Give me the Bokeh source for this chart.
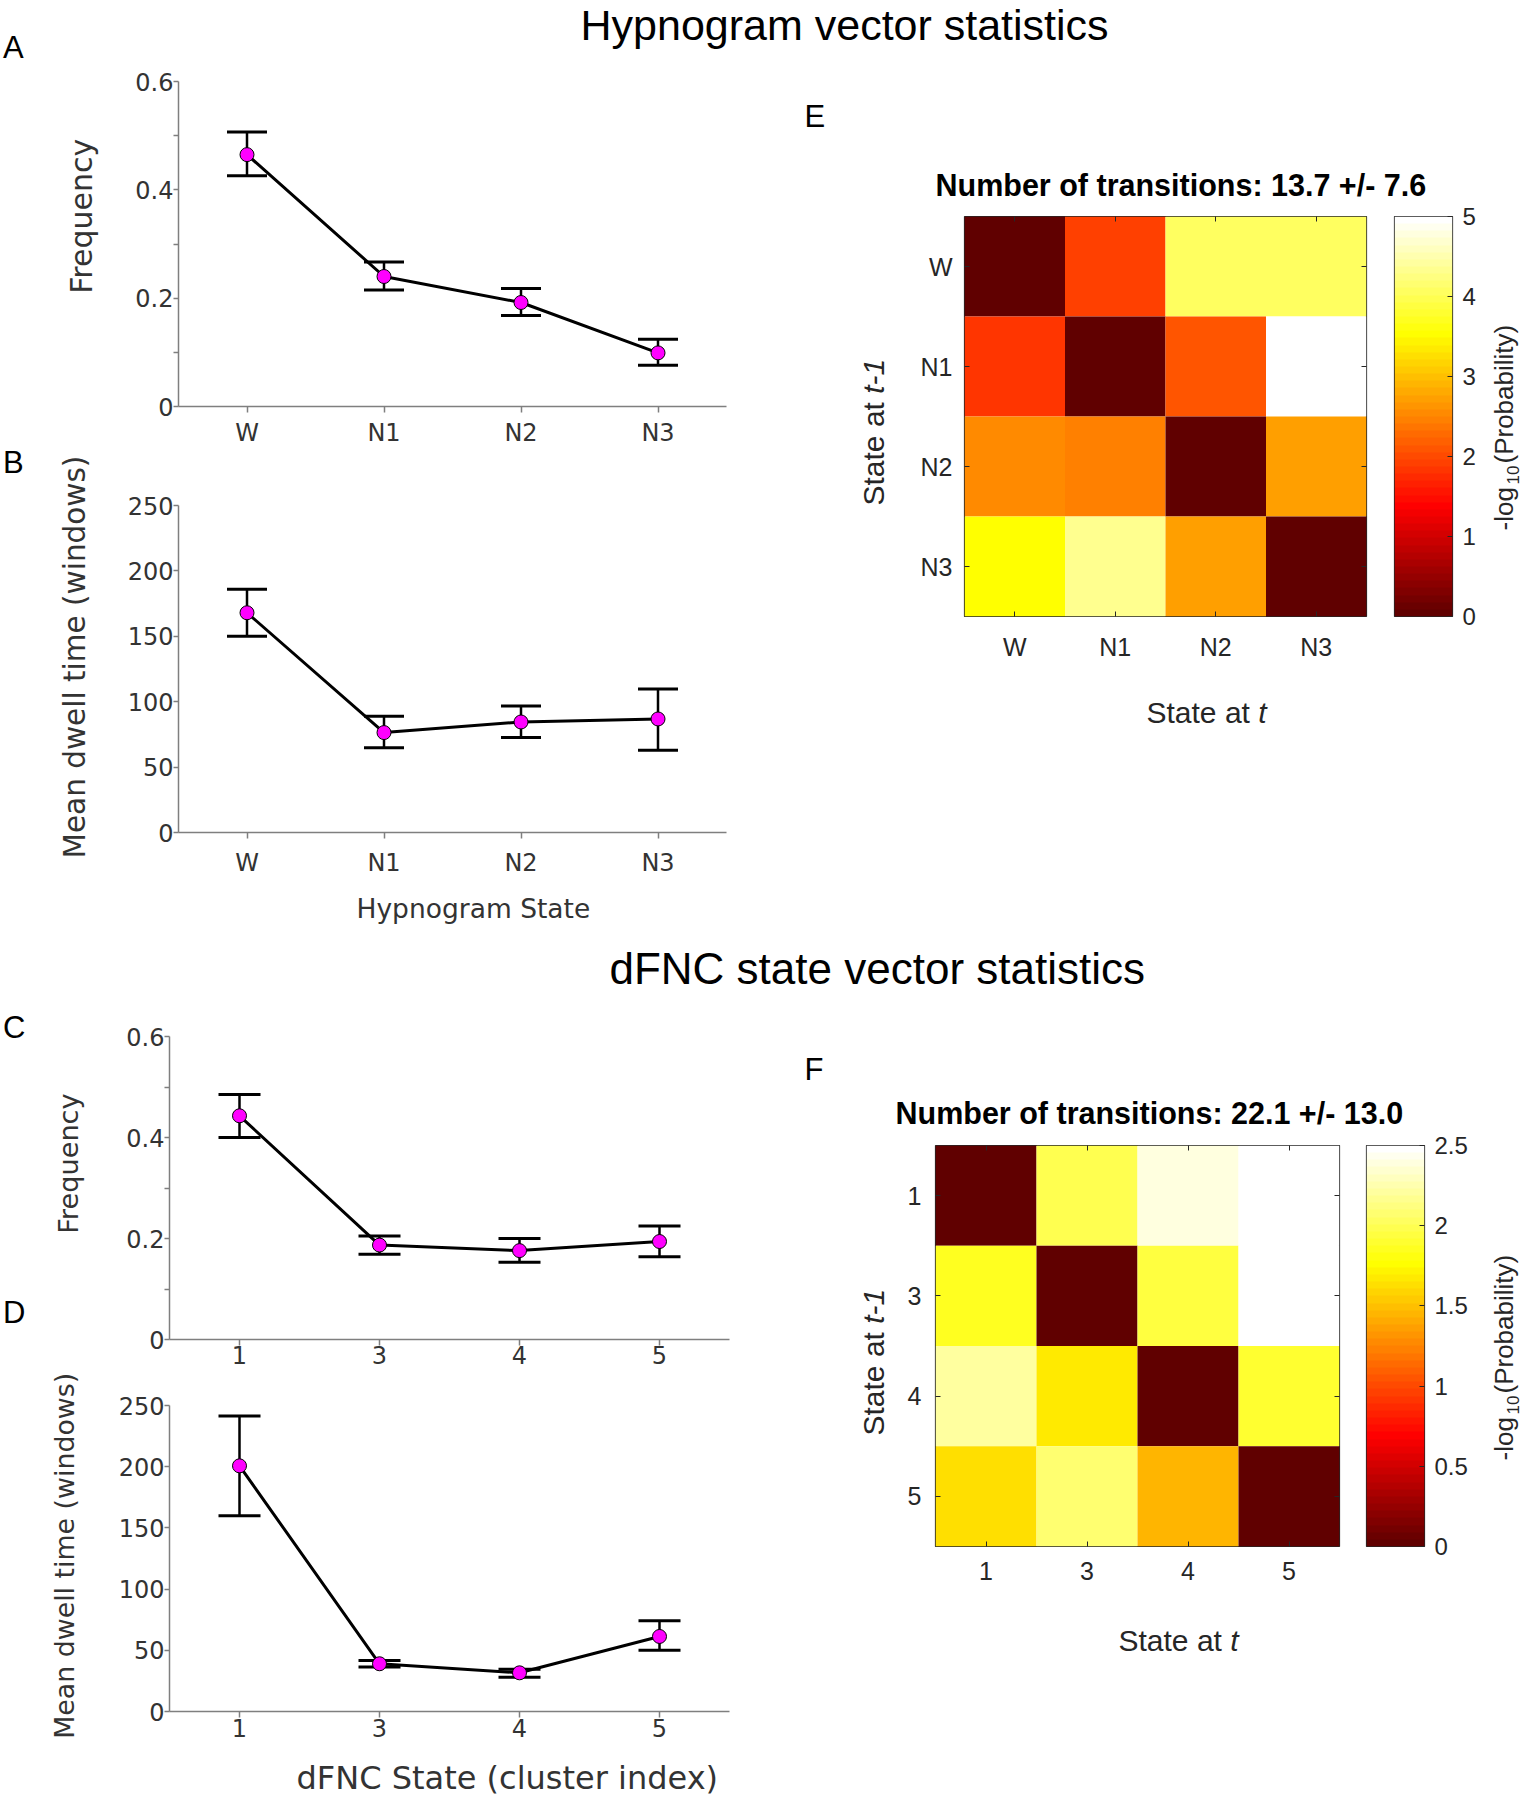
import math
import numpy as np
from bokeh.plotting import figure
from bokeh.models import (Range1d, FixedTicker, Label, Whisker, TeeHead,
                          ColumnDataSource, LinearAxis, LinearColorMapper)
from bokeh.layouts import row, column
from bokeh.transform import linear_cmap
from bokeh.embed import file_html
from bokeh.resources import INLINE

# ---------------------------------------------------------------- data
hyp_states = ["W", "N1", "N2", "N3"]
hyp_freq = [0.465, 0.240, 0.192, 0.099]
hyp_freq_lo = [0.426, 0.215, 0.168, 0.076]
hyp_freq_hi = [0.507, 0.267, 0.218, 0.124]
hyp_dwell = [168.0, 76.4, 84.5, 86.8]
hyp_dwell_lo = [150.0, 64.7, 72.6, 62.9]
hyp_dwell_hi = [186.0, 88.8, 96.7, 109.7]

dfnc_states = ["1", "3", "4", "5"]
dfnc_freq = [0.443, 0.187, 0.176, 0.194]
dfnc_freq_lo = [0.400, 0.169, 0.153, 0.164]
dfnc_freq_hi = [0.485, 0.205, 0.200, 0.225]
dfnc_dwell = [200.7, 39.0, 31.6, 61.3]
dfnc_dwell_lo = [160.0, 36.3, 28.0, 50.0]
dfnc_dwell_hi = [241.5, 41.7, 34.6, 74.2]

# -log10(transition probability); rows = state at t-1, cols = state at t
hyp_trans = [
    [0.0, 1.92, 4.06, 4.06],
    [1.83, 0.0, 2.10, 5.00],
    [2.54, 2.45, 0.0, 2.72],
    [3.53, 4.33, 2.72, 0.0],
]
dfnc_trans = [
    [0.0, 2.00, 2.37, 2.50],
    [1.87, 0.0, 1.93, 2.50],
    [2.20, 1.69, 0.0, 1.90],
    [1.65, 2.09, 1.45, 0.0],
]
hyp_trans_title = "Number of transitions: 13.7 +/- 7.6"
dfnc_trans_title = "Number of transitions: 22.1 +/- 13.0"

freq_ticks = [0, 0.2, 0.4, 0.6]
freq_tick_labels = ["0", "0.2", "0.4", "0.6"]
freq_minor_ticks = [0.1, 0.3, 0.5]
dwell_ticks = [0, 50, 100, 150, 200, 250]
dwell_tick_labels = ["0", "50", "100", "150", "200", "250"]
hyp_cbar_ticks = [0, 1, 2, 3, 4, 5]
hyp_cbar_labels = ["0", "1", "2", "3", "4", "5"]
dfnc_cbar_ticks = [0, 0.5, 1, 1.5, 2, 2.5]
dfnc_cbar_labels = ["0", "0.5", "1", "1.5", "2", "2.5"]

# ---------------------------------------------------------------- style
LIB = "Liberation Sans"
DJV = "DejaVu Sans"
AX_COL = "#7f7f7f"
TXT = "#333333"
MAT = "#262626"
MID = 0.3465  # baseline sits this many em below the middle of the text box


def hot_palette():
    cols = []
    for i in range(1, 65):
        r = min(i / 24.0, 1.0)
        g = min(max((i - 24) / 24.0, 0.0), 1.0)
        b = min(max((i - 48) / 16.0, 0.0), 1.0)
        cols.append("#%02x%02x%02x" % (round(r * 255), round(g * 255), round(b * 255)))
    return cols[8:]


PALETTE = hot_palette()


def make_fig(canvas, frame, xr, yr, **kw):
    cx0, cy0, cx1, cy1 = canvas
    L, T, R, B = frame
    p = figure(width=cx1 - cx0, height=cy1 - cy0, title=None,
               x_range=Range1d(*xr), y_range=Range1d(*yr),
               min_border_left=L - cx0, min_border_right=cx1 - R,
               min_border_top=T - cy0, min_border_bottom=cy1 - B,
               toolbar_location=None, output_backend="svg", **kw)
    p.grid.visible = False
    p.outline_line_color = None
    p.background_fill_color = "white"
    p.border_fill_color = "white"
    return p, (frame, xr, yr)


def band(canvas, frame=None):
    return make_fig(canvas, frame or canvas, (0, 1), (0, 1),
                    x_axis_location=None, y_axis_location=None)


def add_text(p, geo, text, px, py, size, font=LIB, color="black", angle=0.0,
             style="normal"):
    """(px, py): page position of the start of the text on its baseline."""
    (L, T, R, B), (x0, x1), (y0, y1) = geo
    off = MID * size
    if angle:
        px = px - off
    else:
        py = py - off
    x = x0 + (px - L) / (R - L) * (x1 - x0)
    y = y0 + (B - py) / (B - T) * (y1 - y0)
    p.add_layout(Label(x=x, y=y, text=text, text_font=font,
                       text_font_size="%spx" % size, text_color=color,
                       angle=angle, text_font_style=style,
                       text_align="left", text_baseline="middle"))


def line_panel(canvas, frame, states, vals, lo, hi, yr, ticks, tick_labels,
               minor, head, xstand):
    p, geo = make_fig(canvas, frame, (0.5, len(states) + 0.5), yr)
    xa = p.xaxis[0]
    ya = p.yaxis[0]
    xs = [i + 1 for i in range(len(states))]
    src = ColumnDataSource(dict(x=xs, y=vals, lo=lo, hi=hi))
    p.add_layout(Whisker(source=src, base="x", upper="hi", lower="lo",
                         line_color="black", line_width=2.5,
                         upper_head=TeeHead(size=head, line_width=3, line_color="black"),
                         lower_head=TeeHead(size=head, line_width=3, line_color="black")))
    p.line(x="x", y="y", source=src, line_color="black", line_width=3)
    p.scatter(x="x", y="y", source=src, marker="circle", size=14,
              fill_color="#ff00ff", line_color="black", line_width=1)
    for ax in (xa, ya):
        ax.axis_line_color = AX_COL
        ax.axis_line_width = 1.5
        ax.major_tick_line_color = AX_COL
        ax.major_tick_line_width = 1.5
        ax.minor_tick_line_color = AX_COL
        ax.minor_tick_line_width = 1.5
        ax.major_tick_in = 0
        ax.minor_tick_in = 0
        ax.major_label_text_font = DJV
        ax.major_label_text_font_size = "24px"
        ax.major_label_text_color = TXT
    xa.ticker = FixedTicker(ticks=xs)
    xa.major_label_overrides = {x: s for x, s in zip(xs, states)}
    xa.major_tick_out = 6
    xa.major_label_standoff = xstand
    ya.ticker = FixedTicker(ticks=ticks, minor_ticks=minor)
    ya.major_label_overrides = {t: s for t, s in zip(ticks, tick_labels)}
    ya.major_tick_out = 5
    ya.minor_tick_out = 5
    ya.major_label_standoff = 0
    return p, geo


def heat_panel(canvas, frame, states, matrix, vmax, ystand, xstand):
    n = len(states)
    p, geo = make_fig(canvas, frame, (0.5, n + 0.5), (n + 0.5, 0.5))
    xa = p.xaxis[0]
    ya = p.yaxis[0]
    xs, ys, vs = [], [], []
    for i, rowv in enumerate(matrix):
        for j, v in enumerate(rowv):
            xs.append(j + 1)
            ys.append(i + 1)
            vs.append(v)
    src = ColumnDataSource(dict(x=xs, y=ys, v=vs))
    p.rect(x="x", y="y", width=1, height=1, source=src,
           fill_color=linear_cmap("v", PALETTE, 0, vmax), line_color=None)
    p.outline_line_color = MAT
    p.outline_line_width = 1.2
    pos = [i + 1 for i in range(n)]
    top = LinearAxis()
    right = LinearAxis()
    p.add_layout(top, "above")
    p.add_layout(right, "right")
    for ax in (xa, ya, top, right):
        ax.ticker = FixedTicker(ticks=pos)
        ax.axis_line_color = None
        ax.major_tick_in = 5
        ax.major_tick_out = 0
        ax.major_tick_line_color = MAT
        ax.major_tick_line_width = 1
        ax.minor_tick_line_color = None
    for ax in (top, right):
        ax.major_label_overrides = {x: "" for x in pos}
        ax.major_label_text_font_size = "2px"
        ax.major_label_standoff = 0
    for ax in (xa, ya):
        ax.major_label_overrides = {x: s for x, s in zip(pos, states)}
        ax.major_label_text_font = LIB
        ax.major_label_text_font_size = "25px"
        ax.major_label_text_color = MAT
    xa.major_label_standoff = xstand
    ya.major_label_standoff = ystand
    return p, geo


def cbar_panel(canvas, frame, vmax, ticks, labels):
    p, geo = make_fig(canvas, frame, (0, 1), (0, vmax),
                      x_axis_location=None, y_axis_location="right")
    ax = p.yaxis[0]
    mapper = LinearColorMapper(palette=PALETTE, low=0, high=vmax)
    levels = len(PALETTE)
    grad = ((np.arange(levels) + 0.5) / levels * vmax).reshape(levels, 1)
    p.image(image=[grad], x=0, y=0, dw=1, dh=vmax, color_mapper=mapper)
    p.outline_line_color = MAT
    p.outline_line_width = 1.2
    ax.ticker = FixedTicker(ticks=ticks)
    ax.major_label_overrides = {t: s for t, s in zip(ticks, labels)}
    ax.axis_line_color = None
    ax.major_tick_in = 5
    ax.major_tick_out = 0
    ax.major_tick_line_color = MAT
    ax.minor_tick_line_color = None
    ax.major_label_text_font = LIB
    ax.major_label_text_font_size = "24px"
    ax.major_label_text_color = MAT
    ax.major_label_standoff = 10
    return p, geo


ROT = math.pi / 2
W_STATE_AT = 111.75  # advance of "State at " at 30px

# ================================================================ top band
t1, g = band((0, 0, 1523, 66))
add_text(t1, g, "Hypnogram vector statistics", 580, 39, 43)
add_text(t1, g, "A", 2.4, 57.3, 31)

# ---------------------------------------------------------------- A, B
pA, _ = line_panel((100, 66, 798, 450), (178, 81, 726, 406), hyp_states,
                   hyp_freq, hyp_freq_lo, hyp_freq_hi, (0, 0.6),
                   freq_ticks, freq_tick_labels, freq_minor_ticks, 40, 6)
pB, _ = line_panel((100, 450, 798, 885), (178, 505, 726, 832), hyp_states,
                   hyp_dwell, hyp_dwell_lo, hyp_dwell_hi, (0, 250),
                   dwell_ticks, dwell_tick_labels, [], 40, 10)
bx, g = band((100, 885, 798, 935), (178, 885, 726, 935))
add_text(bx, g, "Hypnogram State", 356, 917, 26.5, font=DJV, color=TXT)
l1, g = band((0, 66, 100, 935))
add_text(l1, g, "B", 2.4, 473, 31)
add_text(l1, g, "Frequency", 91, 293.3, 30, font=DJV, color=TXT, angle=ROT)
add_text(l1, g, "Mean dwell time (windows)", 85, 858, 29.5, font=DJV, color=TXT, angle=ROT)

# ---------------------------------------------------------------- E
eb, g = band((798, 66, 1523, 202))
add_text(eb, g, "E", 804, 127, 31)
add_text(eb, g, hyp_trans_title, 935, 195.5, 30.5, style="bold")

pE, _ = heat_panel((905, 202, 1380, 680), (964, 213, 1366, 616), hyp_states,
                   hyp_trans, 5, 12, 16)
cE, _ = cbar_panel((1380, 202, 1485, 680), (1394, 216, 1452, 616), 5,
                   hyp_cbar_ticks, hyp_cbar_labels)
el, g = band((798, 202, 905, 935))
add_text(el, g, "State at", 883, 505, 30, color=MAT, angle=ROT)
add_text(el, g, "t-1", 883, 505 - W_STATE_AT, 30, color=MAT, angle=ROT, style="italic")
ebot, g = band((905, 680, 1485, 935))
add_text(ebot, g, "State at", 1146, 722, 30, color=MAT)
add_text(ebot, g, "t", 1146 + W_STATE_AT, 722, 30, color=MAT, style="italic")
er, g = band((1485, 202, 1523, 935))
add_text(er, g, "-log", 1513, 530, 26, color=MAT, angle=ROT)
add_text(er, g, "10", 1518.5, 484, 17, color=MAT, angle=ROT)
add_text(er, g, "(Probability)", 1513, 463, 26, color=MAT, angle=ROT)

# ================================================================ second band
t2, g = band((0, 935, 1523, 1000))
add_text(t2, g, "dFNC state vector statistics", 609, 983.3, 44)

# ---------------------------------------------------------------- C, D
pC, _ = line_panel((100, 1000, 798, 1376), (169, 1036, 729, 1339), dfnc_states,
                   dfnc_freq, dfnc_freq_lo, dfnc_freq_hi, (0, 0.6),
                   freq_ticks, freq_tick_labels, freq_minor_ticks, 42, 0)
pD, _ = line_panel((100, 1376, 798, 1755), (169, 1405, 729, 1711), dfnc_states,
                   dfnc_dwell, dfnc_dwell_lo, dfnc_dwell_hi, (0, 250),
                   dwell_ticks, dwell_tick_labels, [], 42, 1)
dx, g = band((100, 1755, 798, 1798), (169, 1755, 729, 1798))
add_text(dx, g, "dFNC State (cluster index)", 296, 1789, 32, font=DJV, color=TXT)
l2, g = band((0, 1000, 100, 1798))
add_text(l2, g, "C", 2.4, 1037.3, 31)
add_text(l2, g, "D", 2.4, 1322.7, 31)
add_text(l2, g, "Frequency", 77, 1233.3, 27.2, font=DJV, color=TXT, angle=ROT)
add_text(l2, g, "Mean dwell time (windows)", 73, 1738.3, 26.8, font=DJV, color=TXT, angle=ROT)

# ---------------------------------------------------------------- F
fb, g = band((798, 1000, 1523, 1130))
add_text(fb, g, "F", 804, 1080, 31)
add_text(fb, g, dfnc_trans_title, 895, 1123.5, 30.5, style="bold")

pF, _ = heat_panel((890, 1130, 1352, 1600), (935, 1142, 1339, 1546), dfnc_states,
                   dfnc_trans, 2.5, 14, 15)
cF, _ = cbar_panel((1352, 1130, 1485, 1600), (1366, 1145, 1424, 1546), 2.5,
                   dfnc_cbar_ticks, dfnc_cbar_labels)
fl, g = band((798, 1130, 890, 1798))
add_text(fl, g, "State at", 883, 1435, 30, color=MAT, angle=ROT)
add_text(fl, g, "t-1", 883, 1435 - W_STATE_AT, 30, color=MAT, angle=ROT, style="italic")
fbot, g = band((890, 1600, 1485, 1798))
add_text(fbot, g, "State at", 1118, 1650, 30, color=MAT)
add_text(fbot, g, "t", 1118 + W_STATE_AT, 1650, 30, color=MAT, style="italic")
fr, g = band((1485, 1130, 1523, 1798))
add_text(fr, g, "-log", 1513, 1460, 26, color=MAT, angle=ROT)
add_text(fr, g, "10", 1518.5, 1414, 17, color=MAT, angle=ROT)
add_text(fr, g, "(Probability)", 1513, 1393, 26, color=MAT, angle=ROT)

# ================================================================ layout
top_left = row(l1, column(pA, pB, bx))
top_right = column(eb, row(el, column(row(pE, cE), ebot), er))
bottom_left = row(l2, column(pC, pD, dx))
bottom_right = column(fb, row(fl, column(row(pF, cF), fbot), fr))
layout = column(t1, row(top_left, top_right), t2, row(bottom_left, bottom_right))

open("out.html", "w").write(file_html(layout, INLINE))
